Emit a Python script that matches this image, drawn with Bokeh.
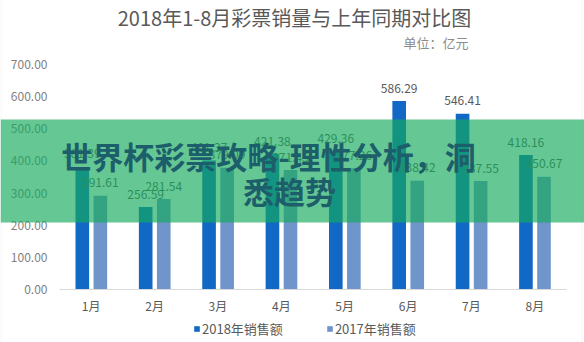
from bokeh.plotting import figure
from bokeh.models import (ColumnDataSource, LabelSet, Label, BoxAnnotation, Legend,
                          LegendItem, NumeralTickFormatter, FixedTicker, Range1d)
from bokeh.transform import dodge
from bokeh.core.properties import value
from bokeh.embed import file_html
from bokeh.resources import INLINE

# ---- data ----
months = ["1月", "2月", "3月", "4月", "5月", "6月", "7月", "8月"]
sales_2018 = [381.39, 256.59, 401.37, 421.38, 429.36, 586.29, 546.41, 418.16]
sales_2017 = [291.61, 281.54, 379.09, 371.45, 377.26, 338.42, 337.55, 350.67]
y_ticks = [0, 100, 200, 300, 400, 500, 600, 700]
series_names = ["2018年销售额", "2017年销售额"]
title_text = "2018年1-8月彩票销量与上年同期对比图"
unit_text = "单位：亿元"
banner_lines = ["世界杯彩票攻略-理性分析，洞", "悉趋势"]

FONT = "Noto Sans CJK SC"
C18 = "#1169c5"
C17 = "#6f95cb"

W, H = 584, 342
# plot area inside the canvas (pixels)
PL, PR, PT, PB = 59, 566, 64, 289
n = len(months)
ux = (PR - PL) / n
uy = (PB - PT) / 700.0
x_range = Range1d(-PL / ux, n + (W - PR) / ux)
y_range = Range1d(-(H - PB) / uy, 700 + PT / uy)

p = figure(width=W, height=H, x_range=x_range, y_range=y_range,
           output_backend="svg", toolbar_location=None,
           min_border=0, min_border_left=0, min_border_right=0,
           min_border_top=0, min_border_bottom=0)
p.title.visible = False
p.outline_line_color = None
p.xgrid.grid_line_color = None
p.ygrid.grid_line_color = None
p.background_fill_color = "white"
p.border_fill_color = "white"

xpos = [i + 0.5 for i in range(n)]

xa = p.xaxis[0]
xa.fixed_location = 0
xa.bounds = (0, n)
xa.ticker = FixedTicker(ticks=xpos)
xa.major_label_overrides = {x: m for x, m in zip(xpos, months)}
xa.axis_line_color = "#d9d9d9"
xa.major_tick_line_color = None
xa.minor_tick_line_color = None
xa.major_tick_out = 0
xa.major_tick_in = 0
xa.minor_tick_out = 0
xa.major_label_standoff = 7
xa.major_label_text_font = FONT
xa.major_label_text_font_size = "12px"
xa.major_label_text_color = "#595959"

ya = p.yaxis[0]
ya.fixed_location = 0
ya.bounds = (0, 700)
ya.axis_line_color = None
ya.major_tick_line_color = None
ya.minor_tick_line_color = None
ya.major_tick_out = 0
ya.major_tick_in = 0
ya.minor_tick_out = 0
ya.ticker = FixedTicker(ticks=y_ticks)
ya.formatter = NumeralTickFormatter(format="0.00")
ya.major_label_standoff = 12
ya.major_label_text_font = FONT
ya.major_label_text_font_size = "12px"
ya.major_label_text_color = "#7f7f7f"

src = ColumnDataSource(dict(
    x=xpos, s18=sales_2018, s17=sales_2017,
    l18=[f"{v:.2f}" for v in sales_2018], l17=[f"{v:.2f}" for v in sales_2017]))

OFF18, OFF17, BW = -0.14, 0.145, 0.215
r18 = p.vbar(x=dodge("x", OFF18), top="s18", width=BW,
             source=src, fill_color=C18, line_color=None)
r17 = p.vbar(x=dodge("x", OFF17), top="s17", width=BW,
             source=src, fill_color=C17, line_color=None)

for fld, off, txt in (("s18", OFF18, "l18"), ("s17", OFF17, "l17")):
    ls = LabelSet(x=dodge("x", off), y=fld, text=txt, source=src,
                  text_align="center", text_baseline="middle", y_offset=13,
                  text_font=value(FONT), text_font_size="12px", text_color="#595959")
    p.add_layout(ls)

legend = Legend(items=[LegendItem(label=series_names[0], renderers=[r18]),
                       LegendItem(label=series_names[1], renderers=[r17])],
                orientation="horizontal", location=(193, 4),
                glyph_width=7, glyph_height=7, label_standoff=2, spacing=43,
                padding=0, margin=0, border_line_color=None, background_fill_alpha=0,
                label_text_font=FONT, label_text_font_size="13px", label_text_color="#595959")
p.add_layout(legend)

p.add_layout(Label(x=294, y=17, x_units="canvas", y_units="canvas", text=title_text,
                   text_align="center", text_baseline="middle", text_font=FONT,
                   text_font_size="20px", text_color="#595959"))
p.add_layout(Label(x=468, y=42, x_units="canvas", y_units="canvas", text=unit_text,
                   text_align="right", text_baseline="middle", text_font=FONT,
                   text_font_size="13px", text_color="#8c8c8c"))

# outer chart border
p.add_layout(BoxAnnotation(left=0.5, right=581.5, top=-2, bottom=344,
                           left_units="canvas", right_units="canvas",
                           top_units="canvas", bottom_units="canvas",
                           fill_alpha=0, line_color="#d9d9d9", line_width=1))

# green banner overlay
p.add_layout(BoxAnnotation(left=0, right=W, top=119, bottom=222,
                           left_units="canvas", right_units="canvas",
                           top_units="canvas", bottom_units="canvas",
                           fill_color="#16aa5c", fill_alpha=0.66, line_color=None))
p.add_layout(Label(x=268, y=155, x_units="canvas", y_units="canvas", text=banner_lines[0],
                   text_align="center", text_baseline="middle", text_font=FONT,
                   text_font_style="bold", text_font_size="31px", text_color="#1c5f6b"))
p.add_layout(Label(x=289, y=190, x_units="canvas", y_units="canvas", text=banner_lines[1],
                   text_align="center", text_baseline="middle", text_font=FONT,
                   text_font_style="bold", text_font_size="31px", text_color="#1c5f6b"))

open("out.html", "w").write(file_html(p, INLINE))
